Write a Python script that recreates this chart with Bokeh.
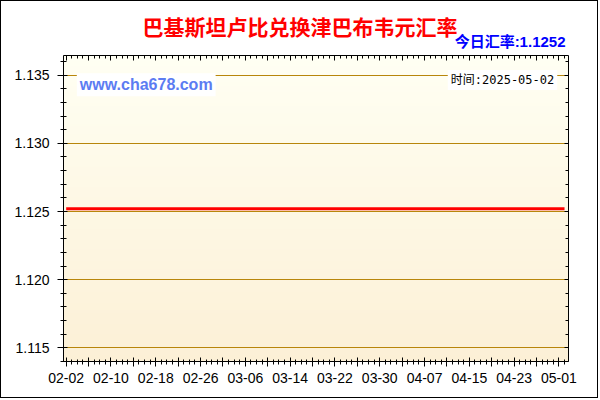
import numpy as np
import pandas as pd
from bokeh.plotting import figure
from bokeh.models import Range1d, LinearAxis, FixedTicker, Label, Title, PrintfTickFormatter
from bokeh.embed import file_html
from bokeh.resources import INLINE

# ---------------- data ----------------
title_text = "巴基斯坦卢比兑换津巴布韦元汇率"
today_text = "今日汇率:1.1252"
site_text = "www.cha678.com"
time_text = "时间:2025-05-02"

start_date = "2025-02-02"
end_date = "2025-05-02"
rates = [
    1.1252, 1.1252, 1.1252, 1.1252, 1.1252, 1.1252, 1.1252, 1.1252, 1.1252, 1.1252,
    1.1252, 1.1252, 1.1252, 1.1252, 1.1252, 1.1252, 1.1252, 1.1252, 1.1252, 1.1252,
    1.1252, 1.1252, 1.1252, 1.1252, 1.1252, 1.1252, 1.1252, 1.1252, 1.1252, 1.1252,
    1.1252, 1.1252, 1.1252, 1.1252, 1.1252, 1.1252, 1.1252, 1.1252, 1.1252, 1.1252,
    1.1252, 1.1252, 1.1252, 1.1252, 1.1252, 1.1252, 1.1252, 1.1252, 1.1252, 1.1252,
    1.1252, 1.1252, 1.1252, 1.1252, 1.1252, 1.1252, 1.1252, 1.1252, 1.1252, 1.1252,
    1.1252, 1.1252, 1.1252, 1.1252, 1.1252, 1.1252, 1.1252, 1.1252, 1.1252, 1.1252,
    1.1252, 1.1252, 1.1252, 1.1252, 1.1252, 1.1252, 1.1252, 1.1252, 1.1252, 1.1252,
    1.1252, 1.1252, 1.1252, 1.1252, 1.1252, 1.1252, 1.1252, 1.1252, 1.1252, 1.1252,
]
x_tick_labels = ["02-02", "02-10", "02-18", "02-26", "03-06", "03-14",
                 "03-22", "03-30", "04-07", "04-15", "04-23", "05-01"]
y_ticks = [1.115, 1.120, 1.125, 1.130, 1.135]

# ---------------- derived ----------------
dates = pd.date_range(start_date, end_date, freq="D")
day_idx = list(range(len(dates)))
md = [d.strftime("%m-%d") for d in dates]
labeled = [md.index(l) for l in x_tick_labels]
mids = [(a + b) // 2 for a, b in zip(labeled[:-1], labeled[1:])]
x_major = sorted(labeled + mids)
overrides = {int(t): l for t, l in zip(labeled, x_tick_labels)}
overrides.update({int(t): "" for t in mids})

x_start, x_end = -0.48, 89.71
y_start, y_end = 1.1140, 1.13644
y_minor = [round(v, 3) for v in np.arange(1.114, 1.1365, 0.001)]

GRID = "#B8860B"

p = figure(width=598, height=398, title=None,
           x_range=Range1d(x_start, x_end), y_range=Range1d(y_start, y_end),
           output_backend="svg", toolbar_location=None,
           min_border_left=62, min_border_right=31, min_border_top=54, min_border_bottom=38,
           border_fill_color="white", background_fill_color="white",
           outline_line_color=None)
p.styles = {"border": "1px solid black"}

# gradient background
n = 305
img = np.zeros((n, 1), dtype=np.uint32)
view = img.view(dtype=np.uint8).reshape((n, 1, 4))
top = np.array([255, 255, 243], dtype=float)
bot = np.array([252, 240, 214], dtype=float)
for i in range(n):
    t = i / (n - 1)
    c = bot * (1 - t) + top * t
    view[i, 0, 0] = int(round(c[0]))
    view[i, 0, 1] = int(round(c[1]))
    view[i, 0, 2] = int(round(c[2]))
    view[i, 0, 3] = 255
p.image_rgba(image=[img], x=x_start, y=y_start, dw=x_end - x_start, dh=y_end - y_start,
             level="image")

# x axis
xt = FixedTicker(ticks=x_major, minor_ticks=day_idx)
xa = p.xaxis[0]
xa.ticker = xt
xa.major_label_overrides = overrides
xa.major_label_text_font = "Liberation Sans"
xa.major_label_text_font_size = "14px"
xa.major_label_text_color = "#000000"
xa.major_label_standoff = 6
xa.major_tick_out = 5
xa.major_tick_in = 4
xa.minor_tick_out = 3
xa.minor_tick_in = 2
xa.axis_line_color = "black"

# y axis
yt = FixedTicker(ticks=y_ticks, minor_ticks=y_minor)
ya = p.yaxis[0]
ya.ticker = yt
ya.formatter = PrintfTickFormatter(format="%.3f")
ya.major_label_text_font = "Liberation Sans"
ya.major_label_text_font_size = "14px"
ya.major_label_text_color = "#000000"
ya.major_label_standoff = 8
ya.major_tick_out = 6
ya.major_tick_in = 4
ya.minor_tick_out = 3
ya.minor_tick_in = 3
ya.axis_line_color = "black"

# top and right axes (ticks only, inward)
ta = LinearAxis(ticker=FixedTicker(ticks=x_major, minor_ticks=day_idx),
                major_label_text_font_size="0px", major_label_standoff=0,
                major_tick_in=5, major_tick_out=0, minor_tick_in=3, minor_tick_out=0,
                axis_line_color="black")
ta.major_label_overrides = {int(t): "" for t in x_major}
p.add_layout(ta, "above")
ra = LinearAxis(ticker=FixedTicker(ticks=y_ticks, minor_ticks=y_minor),
                major_label_text_font_size="0px", major_label_standoff=0,
                major_tick_in=4, major_tick_out=0, minor_tick_in=3, minor_tick_out=0,
                axis_line_color="black")
ra.major_label_overrides = {t: "" for t in y_ticks}
p.add_layout(ra, "right")

# titles (stacked outward from the frame)
p.add_layout(Title(text=today_text, align="right", offset=3, standoff=11,
                   text_font="Liberation Sans, Noto Sans CJK SC", text_font_style="bold",
                   text_font_size="15px", text_color="#0000FF"), "above")
p.add_layout(Title(text=title_text, align="left", offset=79, standoff=-30,
                   text_font="Noto Sans CJK SC", text_font_style="bold",
                   text_font_size="21px", text_color="#FF0000"), "above")

# grid
p.xgrid.visible = False
p.ygrid.ticker = yt
p.ygrid.grid_line_color = GRID
p.ygrid.grid_line_width = 1

# series
p.line(day_idx, rates, line_color="#FF0000", line_width=3)

# interior labels (data units)
p.add_layout(Label(x=1.9, y=1.13429, text=site_text,
                   text_font="Liberation Sans", text_font_style="bold",
                   text_font_size="16px", text_color="#5C7CF2",
                   text_align="left", text_baseline="middle",
                   background_fill_color="white", padding=3))
p.add_layout(Label(x=87.7, y=1.13465, text=time_text,
                   text_font="DejaVu Sans Mono, Noto Sans CJK SC",
                   text_font_size="12px", text_color="#000000",
                   text_align="right", text_baseline="middle",
                   background_fill_color="white", padding=3))

open("out.html", "w").write(file_html(p, INLINE))
